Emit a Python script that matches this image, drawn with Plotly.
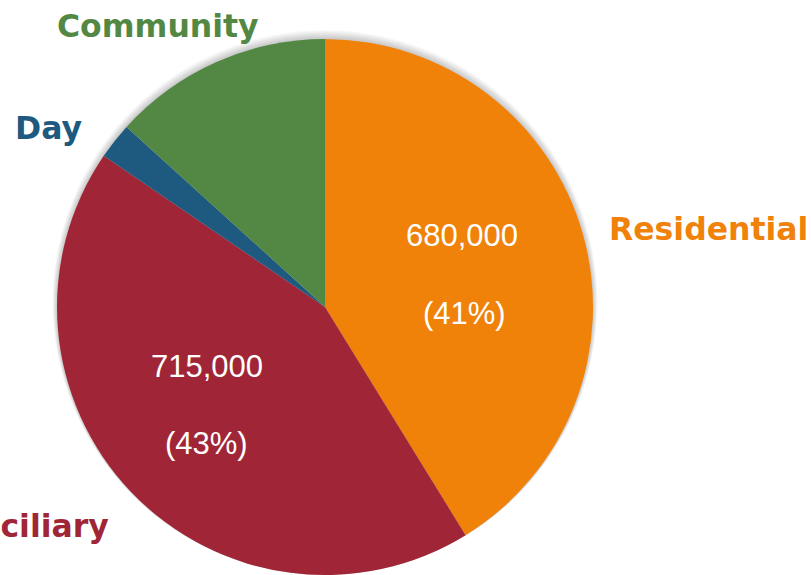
import plotly.graph_objects as go

# Care hours by setting
categories = ["Residential", "Domiciliary", "Day", "Community"]
values = [680000, 715000, 36000, 219000]
colors = ["#F0820A", "#A02637", "#1E5A80", "#528844"]
show_value = [True, True, False, False]

W, H = 811, 575
cx, cy_top, r = 325, 307, 268  # pie centre (px from left / top) and radius

fig = go.Figure()

# soft drop shadow: stacked translucent discs slightly larger than the pie
for k in range(1, 10):
    rr = r + k / 2
    fig.add_trace(go.Pie(
        values=[1], labels=["shadow"], marker=dict(colors=["rgba(0,0,0,0.022)"]),
        textinfo="none", hoverinfo="skip", showlegend=False, sort=False,
        domain=dict(x=[(cx - rr) / W, (cx + rr) / W], y=[0, (2 * rr) / H]),
    ))

fig.add_trace(go.Pie(
    labels=categories, values=values, sort=False, direction="clockwise", rotation=0,
    marker=dict(colors=colors, line=dict(width=0)),
    textinfo="none", hoverinfo="label+value+percent", showlegend=False,
    domain=dict(x=[(cx - r) / W, (cx + r) / W], y=[0, 2 * r / H]),
))

total = sum(values)

# value and share written inside the two large slices
value_pos = {
    "Residential": ((462, 236), (464, 313)),
    "Domiciliary": ((207, 366), (207, 443)),
}
inner_font = dict(family="Liberation Sans, Arial, sans-serif", size=31, color="white")
for name, v, s in zip(categories, values, show_value):
    if not s:
        continue
    (vx, vy), (qx, qy) = value_pos[name]
    fig.add_annotation(text=f"{v:,}", x=vx / W, y=1 - vy / H, xref="paper", yref="paper",
                       xanchor="center", yanchor="middle", showarrow=False, font=inner_font)
    fig.add_annotation(text=f"({v / total:.0%})", x=qx / W, y=1 - qy / H, xref="paper",
                       yref="paper", xanchor="center", yanchor="middle", showarrow=False,
                       font=inner_font)

# category names placed around the pie
label_pos = {
    "Residential": (607, 229, "left"),
    "Domiciliary": (111, 526, "right"),
    "Day": (48, 128, "center"),
    "Community": (158, 26, "center"),
}
for name, col in zip(categories, colors):
    px, py, anchor = label_pos[name]
    fig.add_annotation(
        text=f"<b>{name}</b>", x=px / W, y=1 - py / H, xref="paper", yref="paper",
        xanchor=anchor, yanchor="middle", showarrow=False,
        font=dict(family="DejaVu Sans, Verdana, sans-serif", size=31.5, color=col),
    )

fig.update_layout(
    width=W, height=H, margin=dict(l=0, r=0, t=0, b=0),
    paper_bgcolor="white", plot_bgcolor="white",
)

fig.write_html("out.html")
